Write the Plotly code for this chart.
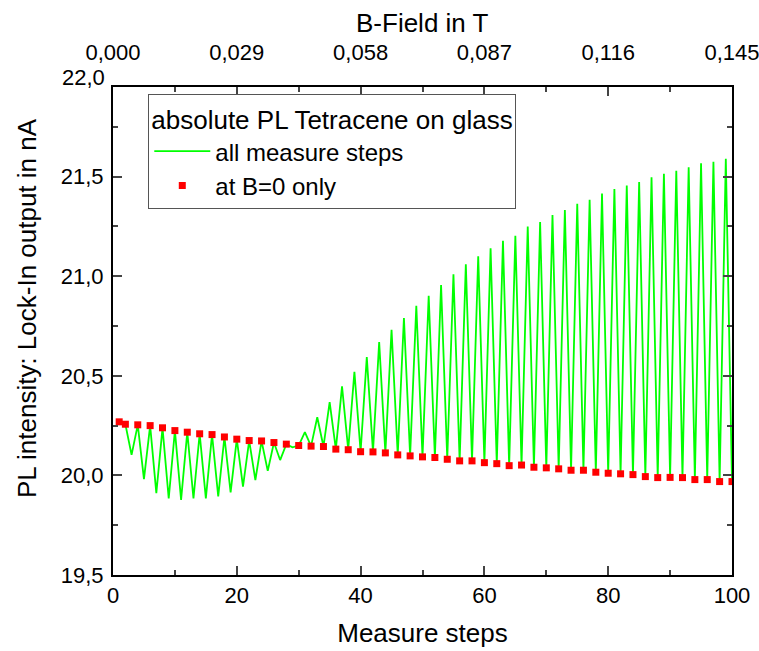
import plotly.graph_objects as go

# ---- data ----
steps_b0 = [1, 2, 4, 6, 8, 10, 12, 14, 16, 18, 20, 22, 24, 26, 28, 30, 32, 34, 36, 38, 40,
            42, 44, 46, 48, 50, 52, 54, 56, 58, 60, 62, 64, 66, 68, 70, 72, 74, 76, 78, 80,
            82, 84, 86, 88, 90, 92, 94, 96, 98, 100]
pl_b0 = [20.269, 20.257, 20.254, 20.250, 20.239, 20.225, 20.217, 20.209, 20.205, 20.193, 20.182,
         20.175, 20.173, 20.165, 20.157, 20.150, 20.147, 20.145, 20.132, 20.129, 20.119,
         20.118, 20.113, 20.103, 20.098, 20.093, 20.090, 20.081, 20.073, 20.073, 20.064,
         20.059, 20.049, 20.052, 20.041, 20.038, 20.033, 20.026, 20.026, 20.016, 20.011,
         20.008, 20.004, 19.994, 19.989, 19.990, 19.989, 19.979, 19.979, 19.969, 19.969]

steps_field = [3, 5, 7, 9, 11, 13, 15, 17, 19, 21, 23, 25, 27, 29, 31, 33, 35, 37, 39, 41,
               43, 45, 47, 49, 51, 53, 55, 57, 59, 61, 63, 65, 67, 69, 71, 73, 75, 77, 79, 81,
               83, 85, 87, 89, 91, 93, 95, 97, 99]
pl_field = [20.103, 19.981, 19.911, 19.884, 19.877, 19.884, 19.885, 19.894, 19.915, 19.944,
            19.977, 20.023, 20.077, 20.141, 20.217, 20.292, 20.368, 20.447, 20.520, 20.594,
            20.669, 20.731, 20.790, 20.852, 20.902, 20.956, 21.010, 21.060, 21.100, 21.140,
            21.178, 21.203, 21.250, 21.272, 21.307, 21.333, 21.364, 21.384, 21.415, 21.438,
            21.455, 21.473, 21.497, 21.514, 21.530, 21.547, 21.567, 21.575, 21.590]

x_ticks = [0, 20, 40, 60, 80, 100]
y_ticks = [19.5, 20.0, 20.5, 21.0, 21.5]
b_ticks = [0.000, 0.029, 0.058, 0.087, 0.116, 0.145]
y_range = [19.5, 21.95]
y_top_label = 22.0

# merge into the full measurement sequence
pairs = sorted(list(zip(steps_b0, pl_b0)) + list(zip(steps_field, pl_field)))
all_x = [p[0] for p in pairs]
all_y = [p[1] for p in pairs]

FONT = "Liberation Sans, Arial, sans-serif"
TICK = 22
TITLE = 26

fig = go.Figure()
fig.add_trace(go.Scatter(
    x=all_x, y=all_y, mode="lines", name="all measure steps", legendgroup="a",
    line=dict(color="#00FF00", width=1.8)))
fig.add_trace(go.Scatter(
    x=steps_b0, y=pl_b0, mode="markers", name="at B=0 only", legendgroup="b",
    marker=dict(symbol="square", size=7, color="#FF0000")))
# carrier trace for the top B-field axis
fig.add_trace(go.Scatter(
    x=[b_ticks[0], b_ticks[-1]], y=[y_ticks[0], y_ticks[0]], xaxis="x2", mode="lines",
    line=dict(width=0), opacity=0, showlegend=False, hoverinfo="skip"))

top_label_paper = (y_top_label - y_range[0]) / (y_range[1] - y_range[0])

fig.update_layout(
    width=759, height=651,
    margin=dict(l=113, r=27, t=87, b=76, autoexpand=False),
    paper_bgcolor="white", plot_bgcolor="white",
    separators=",.",
    font=dict(family=FONT, size=TICK, color="black"),
    showlegend=True,
    legend=dict(
        x=0.057, y=0.985, xanchor="left", yanchor="top",
        bgcolor="white", bordercolor="#555555", borderwidth=1,
        font=dict(family=FONT, size=24),
        title=dict(text="absolute PL Tetracene on glass", font=dict(family=FONT, size=26)),
        tracegroupgap=0, itemwidth=56,
    ),
    xaxis=dict(
        range=[0, 100], tickvals=x_ticks, ticks="inside", ticklen=9, tickwidth=1.5,
        showline=True, linecolor="black", linewidth=2, mirror=False,
        showgrid=False, zeroline=False, automargin=False, ticklabeloverflow="allow",
        minor=dict(ticks="inside", ticklen=5, dtick=10, tickwidth=1.5, showgrid=False),
        tickfont=dict(family=FONT, size=TICK), ticklabelstandoff=0,
        title=dict(text="Measure steps", font=dict(family=FONT, size=TITLE), standoff=16),
    ),
    xaxis2=dict(
        overlaying="x", side="top", anchor="y",
        range=[b_ticks[0], b_ticks[-1]], tickvals=b_ticks, tickformat=".3f",
        ticks="inside", ticklen=9, tickwidth=1.5,
        showline=True, linecolor="black", linewidth=2,
        showgrid=False, zeroline=False, automargin=False, ticklabeloverflow="allow",
        minor=dict(ticks="inside", ticklen=5, dtick=0.0145, tick0=0, tickwidth=1.5, showgrid=False),
        tickfont=dict(family=FONT, size=TICK), ticklabelstandoff=16,
    ),
    yaxis=dict(
        range=y_range, tickvals=y_ticks, tickformat=".1f",
        ticks="inside", ticklen=9, tickwidth=1.5,
        showline=True, linecolor="black", linewidth=2, mirror="ticks",
        showgrid=False, zeroline=False, automargin=False, ticklabeloverflow="allow",
        minor=dict(ticks="inside", ticklen=5, dtick=0.25, tick0=19.5, tickwidth=1.5, showgrid=False),
        tickfont=dict(family=FONT, size=TICK), ticklabelstandoff=3,
    ),
    annotations=[
        dict(x=0, xref="paper", y=top_label_paper, yref="paper",
             text=f"{y_top_label:.1f}".replace(".", ","),
             showarrow=False, xanchor="right", yanchor="middle", xshift=-6,
             font=dict(family=FONT, size=TICK, color="black")),
        dict(x=0, xref="paper", y=0.547, yref="paper",
             text="PL intensity: Lock-In output in nA", textangle=-90,
             showarrow=False, xanchor="center", yanchor="middle", xshift=-86,
             font=dict(family=FONT, size=TITLE, color="black")),
        dict(x=0.5, xref="paper", y=1.131, yref="paper",
             text="B-Field in T",
             showarrow=False, xanchor="center", yanchor="middle",
             font=dict(family=FONT, size=TITLE, color="black")),
    ],
)

fig.write_html("out.html")
